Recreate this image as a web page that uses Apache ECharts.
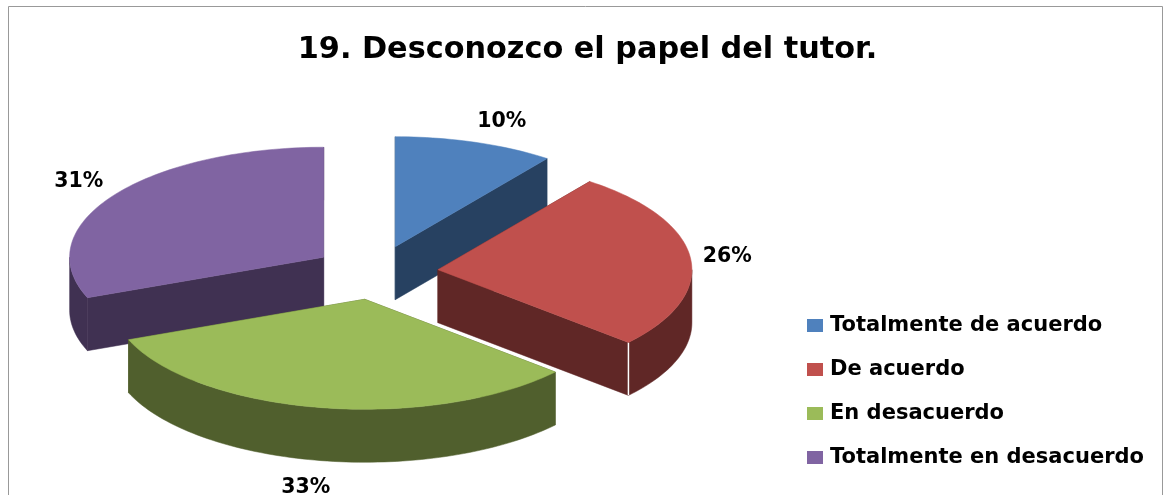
<!DOCTYPE html>
<html>
<head>
<meta charset="utf-8">
<script src="https://cdn.jsdelivr.net/npm/echarts@6/dist/echarts.min.js"></script>
<style>
html, body { margin: 0; padding: 0; background: #fff; }
#chart { width: 1168px; height: 495px; }
</style>
</head>
<body>
<div id="chart"></div>
<script>
const titleText = '19. Desconozco el papel del tutor.';
const categories = ['Totalmente de acuerdo', 'De acuerdo', 'En desacuerdo', 'Totalmente en desacuerdo'];
// labels are rounded, the slice angles say a bit more
const values = [10.2, 26.3, 32.5, 31.0];
const topColors = ['#4f81bd', '#c0504d', '#9bbb59', '#8064a2'];
const sideColors = ['#274161', '#602726', '#505f2d', '#403152'];

// pie geometry, picked to sit on the reference
const cx = 375.5, cy = 272.5, rx = 254, ry = 110, depth = 53, explode = 0.247;
const labelReach = [[1.33, 1.22], [1.145, 1.3], [1.35, 1.72], [1.165, 1.255]];
const cornerColors = [null, '#ffffff', null, '#6d5a84'];
const drawOrder = [3, 4, 5, 2];

const total = values.reduce((a, b) => a + b, 0);

function renderSlice(i) {
    const before = values.slice(0, i).reduce((a, b) => a + b, 0);
    const a0 = before / total * Math.PI * 2;
    const a1 = (before + values[i]) / total * Math.PI * 2;
    const mid = (a0 + a1) / 2;
    const x0 = cx + explode * rx * Math.sin(mid);
    const y0 = cy - explode * ry * Math.cos(mid);
    const pt = (a, drop) => [x0 + rx * Math.sin(a), y0 - ry * Math.cos(a) + (drop || 0)];
    const arc = (from, to) => {
        const n = Math.max(2, Math.ceil((to - from) * 40));
        const out = [];
        for (let k = 0; k <= n; k++) out.push(pt(from + (to - from) * k / n));
        return out;
    };
    const poly = (points, fill) => ({
        type: 'polygon',
        shape: { points: points },
        style: { fill: fill, stroke: fill, lineWidth: 0.5 }
    });
    const side = sideColors[i];
    const face = (a) => [[x0, y0], pt(a), pt(a, depth), [x0, y0 + depth]];
    const children = [poly(face(a0), side), poly(face(a1), side)];

    // outer wall only shows on the front half of the ellipse
    const w0 = Math.max(a0, Math.PI / 2), w1 = Math.min(a1, Math.PI * 1.5);
    if (w1 > w0) {
        const top = arc(w0, w1);
        const bottom = top.map(p => [p[0], p[1] + depth]).reverse();
        children.push(poly(top.concat(bottom), side));
    }
    if (cornerColors[i]) {
        const c = pt(a1);
        children.push({
            type: 'line',
            shape: { x1: c[0], y1: c[1], x2: c[0], y2: c[1] + depth },
            style: { stroke: cornerColors[i], lineWidth: i === 1 ? 1.5 : 1 }
        });
    }
    children.push(poly([[x0, y0]].concat(arc(a0, a1)), topColors[i]));
    children.push({
        type: 'text',
        style: {
            x: x0 + labelReach[i][0] * rx * Math.sin(mid),
            y: y0 - labelReach[i][1] * ry * Math.cos(mid) + 2,
            text: Math.round(values[i]) + '%',
            fill: '#000',
            font: 'bold 20.5px "DejaVu Sans"',
            align: 'center',
            verticalAlign: 'middle'
        }
    });
    return { type: 'group', children: children };
}

const chart = echarts.init(document.getElementById('chart'), null, { renderer: 'canvas' });
chart.setOption({
    animation: false,
    backgroundColor: '#fff',
    title: {
        text: titleText,
        left: 582.5,
        top: 30,
        textAlign: 'center',
        textStyle: { fontFamily: 'DejaVu Sans', fontWeight: 'bold', fontSize: 30.3, color: '#000' }
    },
    legend: {
        orient: 'vertical',
        left: 802,
        top: 310,
        itemWidth: 16,
        itemHeight: 13,
        itemGap: 23,
        icon: 'rect',
        data: categories,
        textStyle: { fontFamily: 'DejaVu Sans', fontWeight: 'bold', fontSize: 21, color: '#000', padding: [0, 0, 0, 2] }
    },
    graphic: [{
        type: 'rect',
        silent: true,
        shape: { x: 8.5, y: 6.5, width: 1154, height: 520 },
        style: { fill: 'none', stroke: '#999', lineWidth: 1 },
        z: -1
    }],
    series: categories.map((name, i) => ({
        type: 'custom',
        name: name,
        coordinateSystem: 'none',
        z: drawOrder[i],
        itemStyle: { color: topColors[i] },
        data: [values[i]],
        renderItem: () => renderSlice(i)
    }))
});
</script>
</body>
</html>
